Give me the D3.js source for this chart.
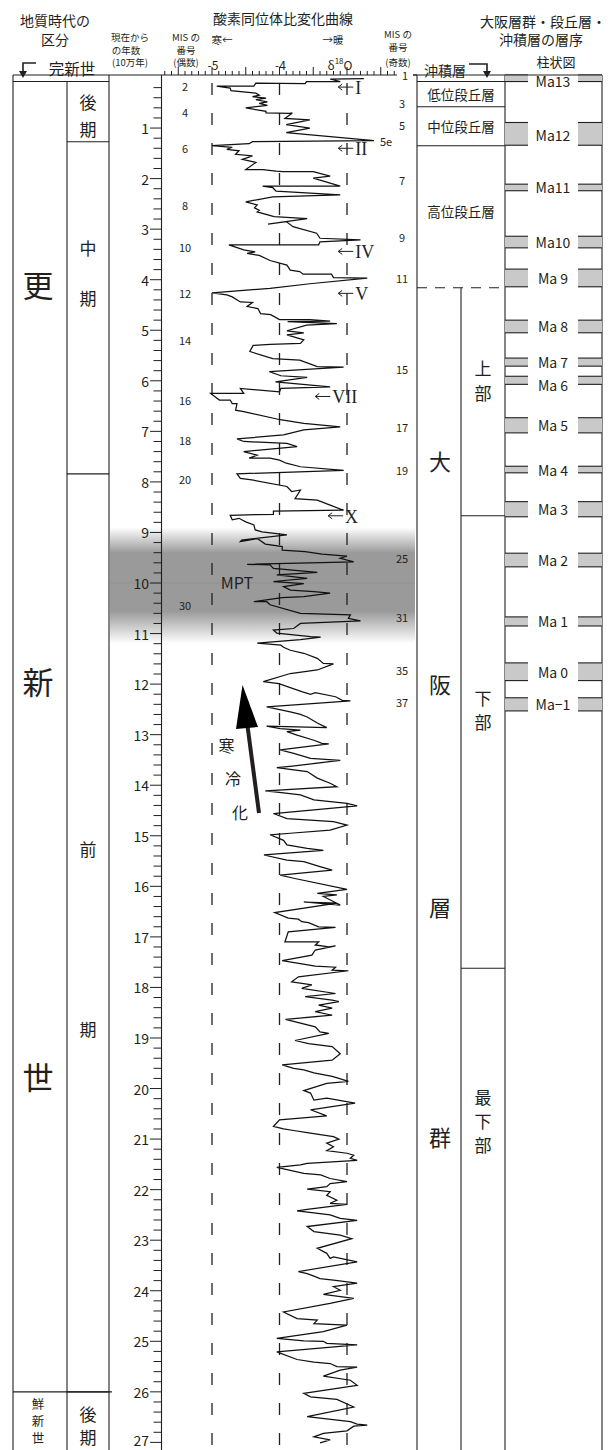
<!DOCTYPE html>
<html><head><meta charset="utf-8">
<script src="https://cdn.jsdelivr.net/npm/d3@7"></script>
<style>body{margin:0;background:#fff}svg{display:block}</style>
</head><body><svg id="c" width="608" height="1450"></svg>
<script>
// ---------- data ----------
// δ18O curve: [age (10万年), δ18O (‰)]
const curve = [[0.02,-2.75],[0.03,-3.25],[0.08,-3.1],[0.08,-3.6],[0.12,-3.62],[0.11,-4.35],[0.17,-4.38],[0.17,-4.93],[0.21,-4.73],[0.26,-4.72],[0.31,-4.35],[0.35,-4.3],[0.38,-4.4],[0.41,-4.2],[0.44,-4.35],[0.48,-4.18],[0.51,-4.3],[0.55,-4.18],[0.6,-4.5],[0.67,-4.2],[0.7,-4.2],[0.71,-3.85],[0.70,-3.81],[0.81,-3.92],[0.84,-3.55],[0.93,-3.9],[1.0,-3.55],[1.09,-3.9],[1.25,-2.6],[1.27,-4.4],[1.31,-4.45],[1.35,-5.0],[1.38,-4.7],[1.42,-4.78],[1.45,-4.6],[1.52,-4.65],[1.55,-4.4],[1.62,-4.55],[1.68,-4.35],[1.82,-4.5],[1.82,-4.25],[1.85,-4.05],[1.86,-3.95],[1.86,-3.5],[1.95,-3.25],[1.99,-3.5],[2.15,-3.1],[2.15,-4.25],[2.18,-4.1],[2.25,-4.05],[2.32,-3.1],[2.36,-4.1],[2.46,-4.5],[2.52,-4.33],[2.58,-4.37],[2.63,-4.3],[2.66,-4.33],[2.75,-4.08],[2.79,-3.59],[2.9,-4.17],[2.85,-3.9],[2.95,-3.8],[3.08,-3.45],[3.18,-3.4],[3.21,-2.8],[3.25,-3.4],[3.31,-3.42],[3.31,-4.75],[3.41,-4.53],[3.45,-4.36],[3.48,-4.48],[3.52,-4.3],[3.62,-4.14],[3.71,-3.89],[3.81,-3.84],[3.84,-3.7],[3.89,-3.65],[3.89,-3.23],[3.96,-3.2],[3.97,-2.7],[4.08,-3.55],[4.17,-4.14],[4.26,-5.0],[4.3,-4.78],[4.34,-4.7],[4.44,-4.58],[4.45,-4.4],[4.53,-4.48],[4.57,-4.32],[4.67,-4.28],[4.69,-4.13],[4.79,-4.0],[4.79,-3.55],[4.82,-3.25],[4.83,-3.88],[4.87,-3.15],[4.9,-3.6],[5.01,-3.89],[5.05,-3.64],[5.09,-3.89],[5.19,-3.64],[5.26,-3.69],[5.28,-4.14],[5.3,-4.39],[5.42,-4.44],[5.56,-4.1],[5.59,-3.7],[5.72,-3.44],[5.73,-3.05],[5.82,-4.15],[5.9,-3.98],[5.93,-3.59],[6.02,-4.06],[6.12,-3.25],[6.15,-3.98],[6.22,-4.0],[6.15,-4.58],[6.25,-4.53],[6.25,-5.02],[6.38,-4.89],[6.38,-4.73],[6.45,-4.7],[6.45,-4.63],[6.58,-4.65],[6.61,-4.53],[6.77,-3.99],[6.84,-3.64],[6.91,-3.1],[6.97,-3.64],[7.07,-3.94],[7.15,-4.63],[7.2,-4.53],[7.24,-3.89],[7.3,-3.74],[7.4,-4.53],[7.47,-4.33],[7.53,-4.45],[7.53,-4.14],[7.57,-4.0],[7.63,-3.9],[7.7,-3.69],[7.77,-3.05],[7.84,-4.63],[7.93,-4.58],[7.96,-4.41],[8.09,-3.89],[8.19,-3.82],[8.16,-3.69],[8.33,-3.77],[8.36,-3.44],[8.46,-3.25],[8.56,-3.05],[8.58,-4.09],[8.64,-4.09],[8.66,-4.73],[8.75,-4.7],[8.72,-4.6],[8.79,-4.5],[8.85,-4.38],[8.95,-4.36],[8.99,-4.26],[9.05,-3.89],[9.15,-4.56],[9.18,-4.58],[9.12,-4.33],[9.23,-4.21],[9.28,-3.96],[9.35,-3.96],[9.38,-3.62],[9.43,-3.37],[9.47,-3.0],[9.51,-3.1],[9.58,-2.9],[9.63,-4.48],[9.64,-4.14],[9.71,-4.09],[9.79,-3.44],[9.84,-4.04],[9.87,-3.84],[9.91,-3.59],[9.97,-4.09],[10.01,-3.64],[10.07,-3.94],[10.14,-3.84],[10.17,-3.49],[10.2,-3.25],[10.27,-3.64],[10.29,-3.96],[10.37,-4.38],[10.37,-4.19],[10.43,-4.14],[10.6,-3.69],[10.63,-2.95],[10.7,-2.98],[10.75,-2.8],[10.8,-3.69],[10.9,-3.79],[10.93,-4.09],[10.99,-4.04],[11.06,-3.54],[11.07,-3.39],[11.12,-3.69],[11.19,-4.33],[11.23,-3.98],[11.27,-3.94],[11.33,-3.84],[11.39,-3.64],[11.49,-3.44],[11.59,-3.35],[11.6,-3.2],[11.72,-3.44],[11.79,-3.84],[11.95,-4.24],[11.99,-4.01],[12.15,-3.67],[12.2,-3.54],[12.17,-3.47],[12.25,-3.17],[12.32,-3.07],[12.33,-2.95],[12.45,-4.19],[12.55,-3.84],[12.6,-3.69],[12.65,-3.59],[12.77,-3.44],[12.86,-3.3],[12.83,-4.19],[12.88,-3.99],[12.91,-3.69],[12.94,-3.89],[13.01,-3.74],[13.11,-3.49],[13.17,-3.37],[13.18,-3.27],[13.3,-3.99],[13.37,-3.79],[13.47,-3.54],[13.51,-3.1],[13.62,-3.81],[13.65,-4.04],[13.73,-3.59],[13.86,-3.44],[13.96,-3.25],[14.03,-3.15],[14.11,-4.21],[14.15,-3.94],[14.19,-3.69],[14.29,-3.49],[14.36,-3.0],[14.41,-2.85],[14.56,-4.09],[14.66,-3.89],[14.72,-3.2],[14.79,-3.0],[14.89,-3.25],[14.95,-3.84],[14.98,-4.14],[15.09,-3.94],[15.18,-3.89],[15.25,-3.59],[15.29,-3.35],[15.38,-4.23],[15.48,-3.89],[15.51,-3.64],[15.61,-3.4],[15.68,-3.22],[15.78,-3.99],[15.84,-3.79],[16.06,-3.0],[16.14,-3.44],[16.17,-3.15],[16.2,-3.35],[16.37,-3.1],[16.31,-3.64],[16.33,-3.15],[16.52,-4.07],[16.63,-3.87],[16.65,-3.72],[16.7,-3.67],[16.72,-3.57],[16.8,-3.42],[16.81,-3.17],[16.9,-3.87],[17.1,-3.92],[17.1,-3.42],[17.16,-3.47],[17.2,-3.27],[17.18,-3.17],[17.26,-3.47],[17.36,-3.52],[17.47,-3.96],[17.58,-3.47],[17.6,-3.17],[17.66,-3.22],[17.67,-2.98],[17.79,-3.72],[17.89,-3.82],[17.95,-3.52],[18.02,-3.67],[18.12,-3.17],[18.18,-3.62],[18.25,-3.22],[18.28,-3.12],[18.35,-3.42],[18.41,-3.22],[18.48,-3.47],[18.55,-3.22],[18.63,-3.91],[18.78,-3.47],[18.88,-3.4],[18.91,-3.27],[19.05,-3.77],[19.11,-3.57],[19.17,-3.22],[19.31,-3.1],[19.44,-3.22],[19.53,-3.96],[19.6,-3.79],[19.63,-3.64],[19.69,-3.49],[19.76,-3.22],[19.8,-3.12],[19.86,-2.98],[19.9,-3.3],[20.04,-3.64],[20.09,-3.54],[20.23,-3.49],[20.19,-3.3],[20.29,-2.88],[20.42,-3.54],[20.54,-3.3],[20.62,-4.0],[20.75,-4.09],[20.8,-3.94],[20.83,-3.79],[20.87,-3.59],[20.95,-3.2],[21.0,-3.12],[21.08,-3.3],[21.15,-3.2],[21.23,-3.3],[21.28,-3.0],[21.32,-2.9],[21.38,-2.95],[21.42,-2.85],[21.48,-3.59],[21.51,-3.69],[21.56,-4.04],[21.68,-3.64],[21.71,-3.39],[21.78,-3.25],[21.84,-3.0],[21.88,-3.25],[21.94,-3.3],[21.99,-3.59],[22.04,-3.25],[22.11,-3.3],[22.21,-3.15],[22.27,-3.25],[22.29,-3.0],[22.39,-3.59],[22.42,-3.74],[22.46,-3.49],[22.5,-3.25],[22.57,-3.1],[22.61,-2.85],[22.73,-3.59],[22.83,-3.49],[22.9,-3.1],[22.97,-2.93],[23.16,-3.44],[23.26,-3.3],[23.36,-3.25],[23.33,-3.2],[23.43,-2.85],[23.62,-3.72],[23.66,-3.59],[23.71,-3.49],[23.76,-3.4],[23.79,-3.2],[23.85,-2.85],[23.92,-3.2],[23.99,-3.1],[24.07,-3.35],[24.15,-2.9],[24.25,-3.25],[24.42,-3.94],[24.55,-3.74],[24.58,-3.44],[24.65,-3.49],[24.68,-3.0],[24.81,-3.35],[24.94,-4.04],[24.99,-3.64],[25.0,-3.35],[25.04,-3.3],[25.07,-2.85],[25.21,-4.04],[25.36,-3.74],[25.41,-3.49],[25.44,-3.25],[25.5,-3.15],[25.51,-2.85],[25.57,-3.1],[25.69,-3.35],[25.77,-2.95],[25.87,-2.85],[26.03,-3.64],[26.1,-3.54],[26.15,-3.15],[26.3,-2.9],[26.49,-3.59],[26.59,-2.95],[26.64,-2.85],[26.66,-2.7],[26.68,-2.9],[26.77,-3.0],[26.82,-3.35],[26.89,-3.49],[26.95,-3.25],[27.01,-3.4]];

const ageTicks = d3.range(1, 28);            // 1..27 (10万年)
const d18OTickLabels = [-5, -4];
const refLines = [-5, -4, -3];               // dashed δ18O guides

const misEven = [["2",0.17],["4",0.68],["6",1.4],["8",2.52],["10",3.35],["12",4.26],["14",5.2],["16",6.38],["18",7.17],["20",7.95],["30",10.43]];
const misOdd  = [["1",-0.05],["3",0.5],["5",0.94],["7",2.03],["9",3.15],["11",3.97],["15",5.77],["17",6.91],["19",7.76],["25",9.51],["31",10.67],["35",11.73],["37",12.35]];
const terminations = [["I",0.19],["II",1.4],["IV",3.44],["V",4.27],["VII",6.31],["X",8.67]];
const termValue = [-3.13,-3.13,-3.13,-3.13,-3.47,-3.28];

const mptBand = [8.9, 11.2];   // Mid-Pleistocene Transition shading (ages)

const epochs = [["完新世",-0.05,0.08]];
const stages = [["後期",0.08,1.27],["中期",1.27,7.84],["前期",7.84,26.0],["後期",26.0,27.15]];
const osakaUnits = [["沖積層",-0.05,0.08],["低位段丘層",0.08,0.58],["中位段丘層",0.58,1.35],["高位段丘層",1.35,4.16]];
const osakaSub = [["上部",4.16,8.67],["下部",8.67,17.62],["最下部",17.62,27.15]];
const maNames = ["Ma13","Ma12","Ma11","Ma10","Ma 9","Ma 8","Ma 7","Ma 6","Ma 5","Ma 4","Ma 3","Ma 2","Ma 1","Ma 0","Ma−1"];
const maTop   = [-0.05,0.89,2.11,3.14,3.79,4.80,5.55,5.91,6.73,7.69,8.39,9.41,10.67,11.58,12.27];
const maBot   = [0.08,1.34,2.24,3.37,4.14,5.05,5.71,6.07,7.03,7.82,8.69,9.68,10.85,11.93,12.53];

// ---------- drawing ----------
const svg = d3.select("#c");
const y = d3.scaleLinear().domain([0, 27]).range([77.5, 1442.4]);
const x = d3.scaleLinear().domain([-5, -3]).range([212, 347]);
const INK = "#231f20";
const JP = "'Noto Sans CJK JP','Noto Sans',sans-serif";
const SERIF = "'Liberation Serif','DejaVu Serif',serif";
const TOP = y(-0.05), BOT = 1450;

function line(x1,y1,x2,y2,w=1.1,dash=null){
  const l = svg.append("line").attr("x1",x1).attr("y1",y1).attr("x2",x2).attr("y2",y2)
    .attr("stroke",INK).attr("stroke-width",w);
  if(dash) l.attr("stroke-dasharray",dash);
  return l;
}
function text(t,x0,y0,size,opts={}){
  return svg.append("text").attr("x",x0).attr("y",y0).text(t)
    .attr("font-family",opts.family||JP).attr("font-size",size)
    .attr("text-anchor",opts.anchor||"middle").attr("dominant-baseline","central")
    .attr("fill",opts.fill||INK);
}

// MPT band gradient
const defs = svg.append("defs");
const g = defs.append("linearGradient").attr("id","mpt").attr("x1",0).attr("y1",0).attr("x2",0).attr("y2",1);
[[0,0],[0.22,1],[0.72,1],[1,0]].forEach(([o,a])=>g.append("stop").attr("offset",o).attr("stop-color","#9a9a9a").attr("stop-opacity",a));
svg.append("rect").attr("x",110).attr("y",y(mptBand[0])).attr("width",305)
  .attr("height",y(mptBand[1])-y(mptBand[0])).attr("fill","url(#mpt)");
line(110,y(10),415,y(10),0.5).attr("stroke","#8c8c8c");

// ---- header ----
text("地質時代の",55,20,14);
text("区分",55,39,14);
text("酸素同位体比変化曲線",283,18,14);
text("大阪層群・段丘層・",543,21,14);
text("沖積層の層序",541,39,14);
text("現在から",130,37,9.5);
text("の年数",126,49.5,9.5);
text("(10万年)",130,62,9.5);
text("MIS の",186,37,9.5);
text("番号",186,49.5,9.5);
text("(偶数)",186,62,9.5);
text("寒←",222,39,10.5);
text("→暖",333,39,10.5);
text("MIS の",398,34,9.5);
text("番号",398,47,9.5);
text("(奇数)",398,62,9.5);
text("柱状図",556,61,13);
d18OTickLabels.forEach(v=>text(String(v),x(v)+1,64,12));
const dl = svg.append("text").attr("x",340).attr("y",64).attr("font-family",JP).attr("font-size",12)
  .attr("text-anchor","middle").attr("dominant-baseline","central").attr("fill",INK);
dl.append("tspan").text("δ");
dl.append("tspan").attr("font-size",8).attr("dy",-4).text("18");
dl.append("tspan").attr("dy",4).text("O");

// 完新世 bracket arrow
text(epochs[0][0],72,68,15.5);
svg.append("path").attr("d","M36,63 L23,63 L23,73").attr("fill","none").attr("stroke",INK).attr("stroke-width",1.6);
svg.append("path").attr("d","M19,71 L27,71 L23,78 Z").attr("fill",INK);
// 沖積層 bracket arrow
text("沖積層",445,70,14);
svg.append("path").attr("d","M469,64 L487,64 L487,73").attr("fill","none").attr("stroke",INK).attr("stroke-width",1.6);
svg.append("path").attr("d","M483,71 L491,71 L487,78 Z").attr("fill",INK);

// ---- left geologic-time column ----
line(13,TOP,397,TOP);
line(13,y(epochs[0][2]),109,y(epochs[0][2]));
line(13,TOP,13,BOT); line(67,y(epochs[0][2]),67,BOT); line(109,TOP,109,BOT);
stages.slice(0,3).forEach(s=>line(67,y(s[2]),109,y(s[2])));
line(13,y(26),112,y(26));
text("更",38,283,31); text("新",38,680,31); text("世",38,1075,31);
text("後",88,101,17); text("期",88,128,17);
text("中",88,247,17); text("期",88,297,17);
text("前",88,848,17); text("期",88,1028,17);
text("後",88,1413,17); text("期",88,1436,17);
text("鮮",38,1403,12.5); text("新",38,1420,12.5); text("世",38,1437,12.5);

// ---- age axis ----
line(161.5,TOP,161.5,BOT,1.1);
const minor = d3.range(0.2, 27.01, 0.2).map(v=>+v.toFixed(1));
svg.append("g").selectAll("line").data(minor).join("line")
  .attr("x1",d=>Number.isInteger(d)?150:153.5).attr("x2",161.5)
  .attr("y1",d=>y(d)).attr("y2",d=>y(d)).attr("stroke",INK).attr("stroke-width",1);
svg.append("g").selectAll("text").data(ageTicks).join("text")
  .attr("x",149).attr("y",d=>Math.min(y(d),1440)).text(d=>d)
  .attr("font-family",JP).attr("font-size",14).attr("text-anchor","end")
  .attr("dominant-baseline","central").attr("fill",INK);

// ---- δ18O top axis ----
const xt = d3.range(-5.7, -2.25, 0.1).map(v=>+v.toFixed(1));
svg.append("g").selectAll("line").data(xt).join("line")
  .attr("x1",d=>x(d)).attr("x2",d=>x(d)).attr("y1",TOP)
  .attr("y2",d=>Math.abs(d*2-Math.round(d*2))<1e-6?TOP-8:TOP-4)
  .attr("stroke",INK).attr("stroke-width",1);

// dashed guides
refLines.forEach(v=>line(x(v),83,x(v),BOT,1.3,"12,18"));

// curve
svg.append("path").datum(curve)
  .attr("d",d3.line().x(d=>x(d[1])).y(d=>y(d[0])))
  .attr("fill","none").attr("stroke","#111").attr("stroke-width",1.25).attr("stroke-linejoin","miter");

// MIS labels
misEven.forEach(([t,a])=>text(t,185,y(a),11));
misOdd.forEach(([t,a])=>text(t,t==="1"?405:402,a<0?TOP:y(a),11));
line(413,TOP,417,TOP);
text("5e",386,141,11);
text("MPT",237,582,16);

// terminations (←I etc.)
terminations.forEach(([t,a],i)=>{
  const x0 = x(termValue[i]), yy = y(a);
  svg.append("path").attr("d",`M${x0+15},${yy} L${x0},${yy} M${x0+4},${yy-3} L${x0},${yy} L${x0+4},${yy+3}`)
    .attr("fill","none").attr("stroke",INK).attr("stroke-width",1);
  text(t,x0+17,yy+1,18,{family:SERIF,anchor:"start"});
});

// cooling arrow
line(259,813,247.5,726,4);
svg.append("path").attr("d","M242.5,685 L236,729 L258,727 Z").attr("fill","#000");
text("寒",226.5,745,16); text("冷",233,778,16); text("化",240,812,16);

// ---- Osaka group column ----
line(417,TOP,417,BOT); line(505,TOP,505,BOT); line(602,TOP,602,BOT);
line(413,TOP,602,TOP);
osakaUnits.forEach(u=>line(417,y(u[2]),505,y(u[2]), 1.1, u[2]===4.16?"10,8":null));
osakaUnits.slice(1).forEach(u=>text(u[0],461,(y(u[1])+y(u[2]))/2+(u[0]==="高位段丘層"?-6:0),13.5));
line(461,y(4.16),461,BOT);
osakaSub.slice(0,2).forEach(s=>line(461,y(s[2]),505,y(s[2])));
text("上",483,367,17); text("部",483,392,17);
text("下",483,697,17); text("部",483,721,17);
text("最",483,1096,17); text("下",483,1120,17); text("部",483,1144,17);
text("大",440,460,22); text("阪",440,683,22); text("層",440,906,22); text("群",440,1136,22);

// ---- columnar section (Ma clays) ----
const ma = svg.append("g");
maNames.forEach((n,i)=>{
  const y0 = i===0?TOP:y(maTop[i]), y1 = y(maBot[i]);
  [[505,528],[578,602]].forEach(([a,b])=>{
    ma.append("rect").attr("x",a).attr("y",y0).attr("width",b-a).attr("height",y1-y0).attr("fill","#c9c9c9");
    line(a,y0,b,y0); line(a,y1,b,y1);
  });
  let cy = (y0+y1)/2;
  if(n==="Ma13") cy = 81; if(n==="Ma 6") cy += 5; if(n==="Ma12") cy += 1;
  text(n,553,cy,14);
});
</script></body></html>
